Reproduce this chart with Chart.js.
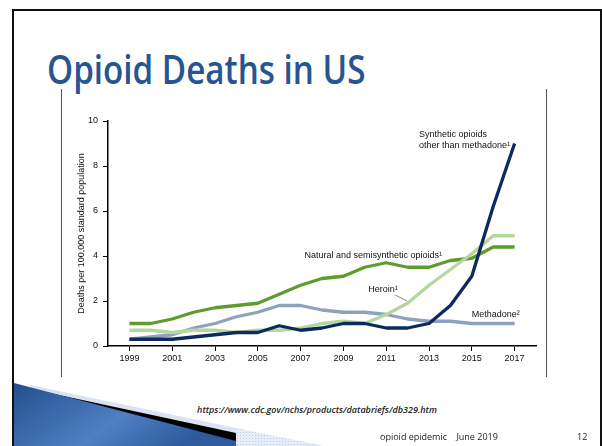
<!doctype html>
<html lang="en">
<head>
    <meta charset="UTF-8">
    <script src="https://cdn.jsdelivr.net/npm/chart.js@4.4.0/dist/chart.umd.min.js"></script>
    <title>Opioid Deaths in US</title>
    <style>
        *, ::before, ::after {
            margin: 0;
            padding: 0;
            box-sizing: border-box;
        }

        body {
            width: 602px;
            height: 446px;
            overflow: hidden;
            background: #fff;
            position: relative;
            font-family: 'Open Sans', sans-serif;
        }

        .frame {
            position: absolute;
            left: 12px;
            top: 9px;
            width: 590px;
            height: 450px;
            border: 2px solid #111;
            border-bottom: none;
        }

        h1 {
            position: absolute;
            left: 47px;
            top: 41px;
            font-size: 40px;
            font-weight: 600;
            color: #285491;
            white-space: nowrap;
            transform: scaleX(0.83);
            transform-origin: left top;
        }

        .figure {
            position: absolute;
            left: 61px;
            top: 89px;
            width: 486px;
            height: 288px;
            border-left: 1px solid #555;
            border-right: 1px solid #555;
        }

        #canvas {
            position: absolute;
            left: 0;
            top: 0;
        }

        .source {
            position: absolute;
            left: 0;
            width: 634px;
            top: 403px;
            text-align: center;
            font-size: 9px;
            font-style: italic;
            font-weight: 600;
            color: #222;
        }

        .deco {
            position: absolute;
            left: 0;
            top: 0;
        }

        .footer {
            position: absolute;
            top: 430px;
            font-size: 9px;
            color: #222;
            white-space: pre;
        }
    </style>
</head>
<body>
<div class="frame"></div>
<h1>Opioid Deaths in US</h1>

<div class="figure">
    <canvas id="canvas" width="486" height="288"></canvas>
</div>

<div class="source">https://www.cdc.gov/nchs/products/databriefs/db329.htm</div>

<svg class="deco" width="602" height="446">
    <defs>
        <linearGradient id="blue" x1="0" y1="0" x2="1" y2="0.4">
            <stop offset="0" stop-color="#234f8d"/>
            <stop offset="0.6" stop-color="#4f7fc4"/>
            <stop offset="1" stop-color="#2c5a9c"/>
        </linearGradient>
        <pattern id="dots" width="3" height="3" patternUnits="userSpaceOnUse">
            <rect width="3" height="3" fill="#e6edf7"/>
            <rect width="1" height="1" fill="#b9cbe6"/>
        </pattern>
    </defs>
    <polygon points="30,385 236,428 236,446 30,446" fill="#d9e3f1"/>
    <polygon points="236,428 325,446 236,446" fill="url(#dots)"/>
    <polygon points="45,392 236,433 236,446 45,446" fill="#000"/>
    <polygon points="14,383 236,441 236,446 14,446" fill="url(#blue)"/>
</svg>

<div class="footer" style="left:380px">opioid epidemic    June 2019</div>
<div class="footer" style="left:577px">12</div>

<script>
    // Age-adjusted drug overdose death rates by opioid type, 1999-2017
    const years = [1999, 2000, 2001, 2002, 2003, 2004, 2005, 2006, 2007, 2008,
        2009, 2010, 2011, 2012, 2013, 2014, 2015, 2016, 2017];
    const synthetic = [0.3, 0.3, 0.3, 0.4, 0.5, 0.6, 0.6, 0.9, 0.7, 0.8,
        1.0, 1.0, 0.8, 0.8, 1.0, 1.8, 3.1, 6.2, 9.0];
    const natural = [1.0, 1.0, 1.2, 1.5, 1.7, 1.8, 1.9, 2.3, 2.7, 3.0,
        3.1, 3.5, 3.7, 3.5, 3.5, 3.8, 3.9, 4.4, 4.4];
    const heroin = [0.7, 0.7, 0.6, 0.7, 0.7, 0.6, 0.7, 0.7, 0.8, 1.0,
        1.1, 1.0, 1.4, 1.9, 2.7, 3.4, 4.1, 4.9, 4.9];
    const methadone = [0.3, 0.4, 0.5, 0.8, 1.0, 1.3, 1.5, 1.8, 1.8, 1.6,
        1.5, 1.5, 1.4, 1.2, 1.1, 1.1, 1.0, 1.0, 1.0];
    const xTicks = [1999, 2001, 2003, 2005, 2007, 2009, 2011, 2013, 2015, 2017];
    const yTicks = [0, 2, 4, 6, 8, 10];

    // Series labels written inside the plot, anchored in data units
    const noteText = ['Synthetic opioids', 'other than methadone\u00b9',
        'Natural and semisynthetic opioids\u00b9', 'Heroin\u00b9', 'Methadone\u00b2'];
    const noteX = [2012.53, 2012.53, 2007.18, 2010.16, 2015.0];
    const noteY = [9.38, 8.93, 4.04, 2.49, 1.38];

    const axisFont = {family: "'Liberation Sans', Arial, sans-serif", size: 9};

    const series = (values) => values.map((v, i) => ({x: years[i], y: v}));

    const notes = {
        id: 'notes',
        afterDatasetsDraw(chart) {
            const {ctx, scales: {x, y}} = chart;
            ctx.save();
            ctx.font = "9px 'Liberation Sans', Arial, sans-serif";
            ctx.fillStyle = '#111';
            ctx.textBaseline = 'middle';
            noteText.forEach((t, i) => {
                ctx.fillText(t, x.getPixelForValue(noteX[i]), y.getPixelForValue(noteY[i]));
            });
            // leader from the heroin label to its line
            ctx.strokeStyle = '#666';
            ctx.lineWidth = 0.8;
            ctx.beginPath();
            ctx.moveTo(x.getPixelForValue(2011.42), y.getPixelForValue(2.27));
            ctx.lineTo(x.getPixelForValue(2011.97), y.getPixelForValue(2.0));
            ctx.stroke();
            ctx.restore();
        }
    };

    const ctx = document.getElementById('canvas').getContext('2d');
    new Chart(ctx, {
        type: 'line',
        data: {
            datasets: [
                {label: 'Synthetic opioids other than methadone', data: series(synthetic), borderColor: '#0c2b5c'},
                {label: 'Heroin', data: series(heroin), borderColor: '#b6d69b'},
                {label: 'Natural and semisynthetic opioids', data: series(natural), borderColor: '#5f9c30'},
                {label: 'Methadone', data: series(methadone), borderColor: '#8da2bf'},
            ],
        },
        options: {
            responsive: false,
            animation: false,
            events: [],
            elements: {
                line: {borderWidth: 3.3, tension: 0, borderCapStyle: 'butt', borderJoinStyle: 'round'},
                point: {radius: 0},
            },
            layout: {padding: {top: 32, right: 12, left: 0, bottom: 0}},
            plugins: {legend: {display: false}, tooltip: {enabled: false}},
            scales: {
                x: {
                    type: 'linear',
                    min: 1998,
                    max: 2018,
                    afterBuildTicks: (s) => { s.ticks = xTicks.map((v) => ({value: v})); },
                    afterFit: (s) => { s.height = 31; },
                    ticks: {font: axisFont, color: '#111', padding: 2, maxRotation: 0, callback: (v) => String(v)},
                    grid: {drawOnChartArea: false, drawTicks: true, tickLength: 5, color: '#000', lineWidth: 1},
                    border: {display: true, color: '#000', width: 1.5},
                },
                y: {
                    min: 0,
                    max: 10,
                    afterBuildTicks: (s) => { s.ticks = yTicks.map((v) => ({value: v})); },
                    afterFit: (s) => { s.width = 46; },
                    ticks: {font: axisFont, color: '#111', padding: 5, callback: (v) => String(v)},
                    grid: {drawOnChartArea: false, drawTicks: true, tickLength: 5, color: '#000', lineWidth: 1},
                    border: {display: true, color: '#000', width: 1.5},
                    title: {
                        display: true,
                        text: 'Deaths per 100,000 standard population',
                        font: axisFont,
                        color: '#111',
                        padding: {top: 14, bottom: 0},
                    },
                },
            },
        },
        plugins: [notes],
    });
</script>
</body>
</html>
